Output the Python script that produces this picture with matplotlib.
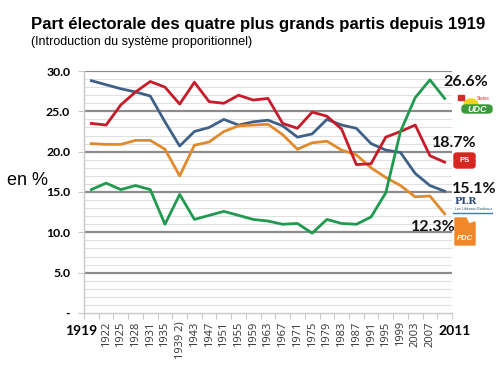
import matplotlib
matplotlib.use("Agg")
import matplotlib.pyplot as plt
from matplotlib.patches import FancyBboxPatch, Rectangle, Polygon
import numpy as np

years = ["1919", "1922", "1925", "1928", "1931", "1935", "1939 2)", "1943", "1947",
         "1951", "1955", "1959", "1963", "1967", "1971", "1975", "1979", "1983",
         "1987", "1991", "1995", "1999", "2003", "2007", "2011"]
plr = [28.8, 28.3, 27.8, 27.4, 26.9, 23.7, 20.7, 22.5, 23.0, 24.0, 23.3, 23.7, 23.9,
       23.2, 21.8, 22.2, 24.0, 23.3, 22.9, 21.0, 20.2, 19.9, 17.3, 15.8, 15.1]
ps = [23.5, 23.3, 25.8, 27.4, 28.7, 28.0, 25.9, 28.6, 26.2, 26.0, 27.0, 26.4, 26.6,
      23.5, 22.9, 24.9, 24.4, 22.8, 18.4, 18.5, 21.8, 22.5, 23.3, 19.5, 18.7]
pdc = [21.0, 20.9, 20.9, 21.4, 21.4, 20.3, 17.0, 20.8, 21.2, 22.5, 23.2, 23.3, 23.4,
       22.1, 20.3, 21.1, 21.3, 20.2, 19.6, 18.0, 16.8, 15.8, 14.4, 14.5, 12.3]
udc = [15.3, 16.1, 15.3, 15.8, 15.3, 11.0, 14.7, 11.6, 12.1, 12.6, 12.1, 11.6, 11.4,
       11.0, 11.1, 9.9, 11.6, 11.1, 11.0, 11.9, 14.9, 22.5, 26.7, 28.9, 26.6]
yticks = [0, 5, 10, 15, 20, 25, 30]
ytick_labels = ["-", "5.0", "10.0", "15.0", "20.0", "25.0", "30.0"]
end_labels = ["26.6%", "18.7%", "15.1%", "12.3%"]

W, H = 500, 379
fig = plt.figure(figsize=(5.0, 3.79), dpi=100)
ax = fig.add_axes([84 / W, 1 - 313 / H, (452 - 84) / W, (313 - 71) / H])

x = np.arange(len(years))
ax.set_xlim(-0.5, len(years) - 0.5)
ax.set_ylim(0, 30)

# gridlines
for v in np.arange(1, 30, 1):
    if v % 5 == 0:
        ax.axhline(v, color="#8c8c8c", lw=1.6, zorder=1)
    else:
        ax.axhline(v, color="#e0e0e0", lw=0.8, zorder=1)
ax.axhline(30, color="#8c8c8c", lw=1.6, zorder=1)

ax.plot(x, plr, color="#3f6188", lw=2.0, zorder=3)
ax.plot(x, pdc, color="#e08a2c", lw=2.0, zorder=3)
ax.plot(x, ps, color="#c61c2a", lw=2.0, zorder=4)
ax.plot(x, udc, color="#1f9a4f", lw=2.0, zorder=5)

for s in ["top", "right"]:
    ax.spines[s].set_visible(False)
ax.spines["left"].set_color("#c8c8c8")
ax.spines["bottom"].set_color("#c8c8c8")
ax.spines["left"].set_linewidth(1.0)
ax.spines["bottom"].set_linewidth(1.0)

ax.set_yticks(yticks)
ax.set_yticklabels(ytick_labels, fontsize=8.8, fontweight="bold", family="Lato")
ax.tick_params(axis="y", length=4, color="#c8c8c8", pad=6)

# category boundary ticks
ax.set_xticks(np.arange(-0.5, len(years), 1.0), minor=False)
ax.set_xticklabels([])
ax.tick_params(axis="x", length=4, color="#c8c8c8")
ax.set_xticks(x, minor=True)
minor_labels = [""] + years[1:-1] + [""]
ax.set_xticklabels(minor_labels, minor=True, rotation=90, fontsize=8, family="Open Sans",
                   color="#333333")
ax.tick_params(axis="x", which="minor", length=0, pad=6)

fig.text(81 / W, 1 - 331 / H, years[0], ha="center", va="center", fontsize=10,
         fontweight="bold", family="Lato")
fig.text(455 / W, 1 - 331 / H, years[-1], ha="center", va="center", fontsize=10,
         fontweight="bold", family="Lato")

# titles
fig.text(31 / W, 1 - 24 / H, "Part électorale des quatre plus grands partis depuis 1919",
         ha="left", va="center", fontsize=12.1, fontweight="bold", family="Liberation Sans")
fig.text(31 / W, 1 - 42 / H, "(Introduction du système proporitionnel)",
         ha="left", va="center", fontsize=9, family="Liberation Sans")
fig.text(7 / W, 1 - 181 / H, "en %", ha="left", va="center", fontsize=13,
         family="Liberation Sans")

# end labels
lbl_pos = [(443, 82), (432, 143), (452, 189), (411, 227)]
for t, (px, py) in zip(end_labels, lbl_pos):
    fig.text(px / W, 1 - py / H, t, ha="left", va="center", fontsize=11.5,
             fontweight="bold", family="Lato", color="#111111")

# logos (approximate)
def fx(px):
    return px / W

def fy(py):
    return 1 - py / H

# UDC
th = np.linspace(0, np.pi, 30)
sun = [(fx(471 + 7 * np.cos(t)), fy(105 - 6 * np.sin(t))) for t in th]
fig.patches.append(Polygon(sun, closed=True, color="#f2d21a",
                           transform=fig.transFigure, zorder=5))
fig.patches.append(Rectangle((fx(458), fy(100)), 6 / W, 5 / H, color="#d42a2a",
                             transform=fig.transFigure, zorder=5))
fig.patches.append(FancyBboxPatch((fx(462), fy(113)), 30 / W, 8 / H,
                                  boxstyle="round,pad=0,rounding_size=0.008",
                                  color="#3a9a3a", transform=fig.transFigure, zorder=6))
fig.text(fx(477), fy(109), "UDC", ha="center", va="center", fontsize=6.5,
         fontweight="bold", style="italic", color="white", family="Liberation Sans", zorder=7)
fig.text(fx(483), fy(99), "Swiss", ha="center", va="center", fontsize=3.5,
         color="#d42a2a", family="Liberation Sans")
# PS
fig.patches.append(FancyBboxPatch((fx(454), fy(168)), 21 / W, 15 / H,
                                  boxstyle="round,pad=0,rounding_size=0.006",
                                  color="#d7261f", transform=fig.transFigure, zorder=6))
fig.text(fx(464.5), fy(160.5), "PS", ha="center", va="center", fontsize=5.5,
         fontweight="bold", color="white", family="Liberation Sans", zorder=7)
# PLR
fig.text(fx(455), fy(201.5), "PLR", ha="left", va="center", fontsize=7,
         fontweight="bold", color="#2b4a7a", family="DejaVu Serif")
fig.text(fx(455), fy(209.5), "Les Libéraux-Radicaux", ha="left", va="center", fontsize=2.6,
         color="#2b4a7a", family="Liberation Sans")
fig.lines.append(plt.Line2D([fx(453), fx(492)], [fy(213), fy(213)], color="#3a7abf",
                            lw=1.0, transform=fig.transFigure))
# PDC
fig.patches.append(Polygon([(fx(455), fy(245)), (fx(455), fy(218)), (fx(466), fy(218)),
                            (fx(469), fy(224)), (fx(475), fy(222)), (fx(475), fy(245))],
                           closed=True, color="#f0882a", transform=fig.transFigure, zorder=6))
fig.text(fx(465), fy(239), "PDC", ha="center", va="center", fontsize=5.5,
         fontweight="bold", style="italic", color="white", family="Liberation Sans", zorder=7)

fig.savefig("out.png", dpi=100, facecolor="white")
